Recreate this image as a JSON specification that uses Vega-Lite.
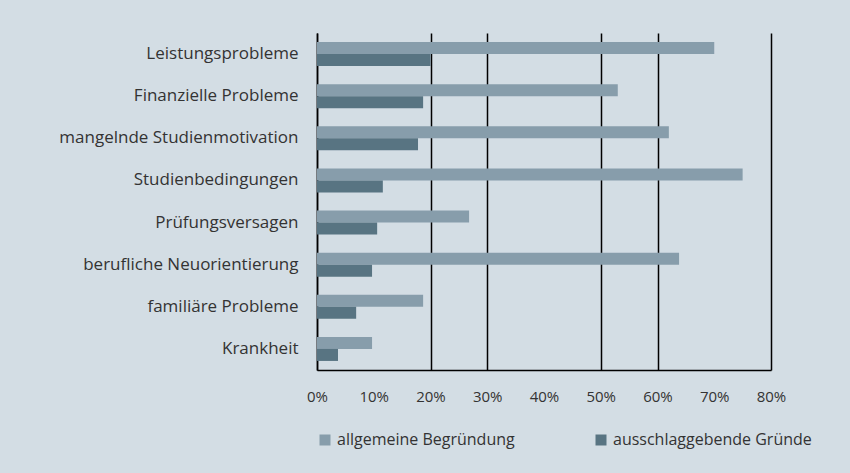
{
  "$schema": "https://vega.github.io/schema/vega-lite/v6.json",
  "width": 454,
  "height": 337,
  "autosize": "none",
  "padding": {"left": 317, "top": 33, "right": 79, "bottom": 103},
  "background": "#d3dde4",
  "data": {
    "values": [
      {"Grund": "Leistungsprobleme", "Art": "allgemeine Begründung", "Wert": 70},
      {"Grund": "Leistungsprobleme", "Art": "ausschlaggebende Gründe", "Wert": 20},
      {"Grund": "Finanzielle Probleme", "Art": "allgemeine Begründung", "Wert": 53},
      {"Grund": "Finanzielle Probleme", "Art": "ausschlaggebende Gründe", "Wert": 18.7},
      {"Grund": "mangelnde Studienmotivation", "Art": "allgemeine Begründung", "Wert": 62},
      {"Grund": "mangelnde Studienmotivation", "Art": "ausschlaggebende Gründe", "Wert": 17.8},
      {"Grund": "Studienbedingungen", "Art": "allgemeine Begründung", "Wert": 75},
      {"Grund": "Studienbedingungen", "Art": "ausschlaggebende Gründe", "Wert": 11.6},
      {"Grund": "Prüfungsversagen", "Art": "allgemeine Begründung", "Wert": 26.8},
      {"Grund": "Prüfungsversagen", "Art": "ausschlaggebende Gründe", "Wert": 10.6},
      {"Grund": "berufliche Neuorientierung", "Art": "allgemeine Begründung", "Wert": 63.8},
      {"Grund": "berufliche Neuorientierung", "Art": "ausschlaggebende Gründe", "Wert": 9.7},
      {"Grund": "familiäre Probleme", "Art": "allgemeine Begründung", "Wert": 18.7},
      {"Grund": "familiäre Probleme", "Art": "ausschlaggebende Gründe", "Wert": 6.9},
      {"Grund": "Krankheit", "Art": "allgemeine Begründung", "Wert": 9.7},
      {"Grund": "Krankheit", "Art": "ausschlaggebende Gründe", "Wert": 3.7}
    ]
  },
  "mark": {"type": "bar"},
  "encoding": {
    "y": {
      "field": "Grund",
      "type": "nominal",
      "sort": null,
      "title": null,
      "scale": {"paddingInner": 0.43, "paddingOuter": 0.215},
      "axis": {
        "ticks": false,
        "labelPadding": 19,
        "labelFontSize": 17,
        "labelFont": "Open Sans",
        "labelColor": "#333333",
        "domainColor": "#000000",
        "domainWidth": 1.5,
        "labelLimit": 400
      }
    },
    "yOffset": {
      "field": "Art",
      "type": "nominal",
      "sort": ["allgemeine Begründung", "ausschlaggebende Gründe"]
    },
    "x": {
      "field": "Wert",
      "type": "quantitative",
      "title": null,
      "scale": {"domain": [0, 80], "nice": false},
      "axis": {
        "values": [0, 10, 20, 30, 40, 50, 60, 70, 80],
        "labelExpr": "datum.value + '%'",
        "labelFlush": false,
        "ticks": false,
        "labelPadding": 19,
        "labelFontSize": 15,
        "labelFont": "Open Sans",
        "labelColor": "#333333",
        "domainColor": "#000000",
        "domainWidth": 1.5,
        "grid": true,
        "gridColor": "#000000",
        "gridWidth": 1.5,
        "gridOpacity": {"condition": {"test": "datum.value == 10 || datum.value == 40 || datum.value == 70", "value": 0}, "value": 1}
      }
    },
    "color": {
      "field": "Art",
      "type": "nominal",
      "scale": {"domain": ["allgemeine Begründung", "ausschlaggebende Gründe"], "range": ["#879dab", "#587482"]},
      "legend": {
        "title": null,
        "orient": "bottom",
        "direction": "horizontal",
        "symbolType": "square",
        "symbolSize": 121,
        "symbolStrokeWidth": 0,
        "labelFontSize": 16,
        "labelFont": "Open Sans",
        "labelColor": "#333333",
        "columnPadding": 78,
        "offset": 28,
        "labelLimit": 400
      }
    }
  },
  "config": {"view": {"stroke": null}}
}
